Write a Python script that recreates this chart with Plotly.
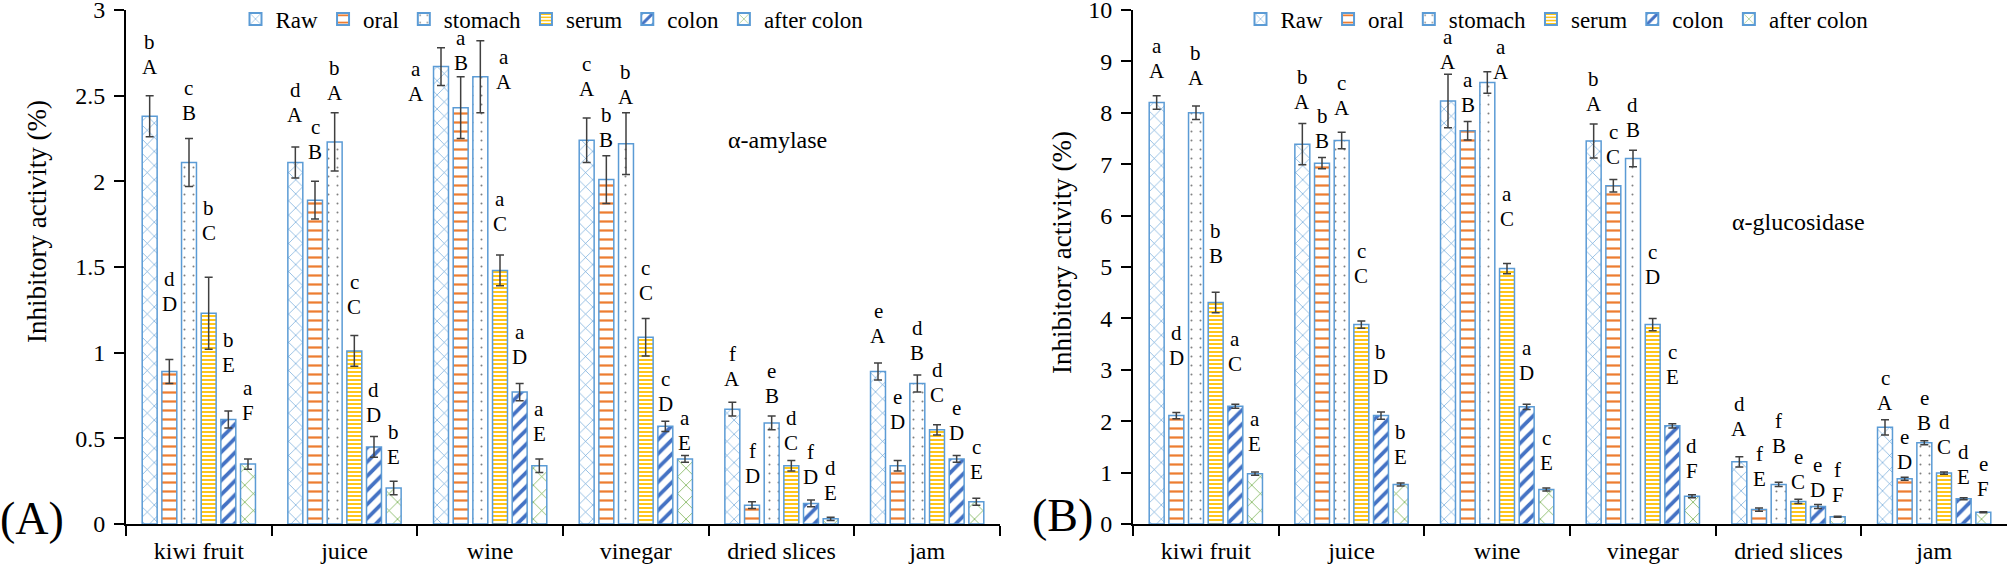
import plotly.graph_objects as go

# ---------------- data ----------------
categories = ["kiwi fruit", "juice", "wine", "vinegar", "dried slices", "jam"]
series = ["Raw", "oral", "stomach", "serum", "colon", "after colon"]

amy_raw = [2.38, 2.11, 2.67, 2.24, 0.67, 0.89]
amy_oral = [0.89, 1.89, 2.43, 2.01, 0.11, 0.34]
amy_stomach = [2.11, 2.23, 2.61, 2.22, 0.59, 0.82]
amy_serum = [1.23, 1.01, 1.48, 1.09, 0.34, 0.55]
amy_colon = [0.61, 0.45, 0.77, 0.57, 0.12, 0.38]
amy_after = [0.35, 0.21, 0.34, 0.38, 0.03, 0.13]

amy_raw_err = [0.12, 0.09, 0.11, 0.13, 0.04, 0.05]
amy_oral_err = [0.07, 0.11, 0.18, 0.14, 0.02, 0.03]
amy_stomach_err = [0.14, 0.17, 0.21, 0.18, 0.04, 0.05]
amy_serum_err = [0.21, 0.09, 0.09, 0.11, 0.03, 0.03]
amy_colon_err = [0.05, 0.06, 0.05, 0.03, 0.02, 0.02]
amy_after_err = [0.03, 0.04, 0.04, 0.02, 0.01, 0.02]

glu_raw = [8.20, 7.39, 8.23, 7.45, 1.21, 1.88]
glu_oral = [2.11, 7.02, 7.65, 6.58, 0.28, 0.88]
glu_stomach = [8.00, 7.46, 8.59, 7.11, 0.77, 1.58]
glu_serum = [4.31, 3.88, 4.97, 3.88, 0.44, 0.99]
glu_colon = [2.29, 2.11, 2.28, 1.91, 0.34, 0.49]
glu_after = [0.98, 0.77, 0.67, 0.54, 0.14, 0.23]

glu_raw_err = [0.13, 0.40, 0.52, 0.33, 0.10, 0.15]
glu_oral_err = [0.06, 0.11, 0.18, 0.12, 0.03, 0.03]
glu_stomach_err = [0.13, 0.16, 0.21, 0.16, 0.04, 0.04]
glu_serum_err = [0.20, 0.07, 0.10, 0.12, 0.04, 0.02]
glu_colon_err = [0.04, 0.07, 0.05, 0.04, 0.04, 0.02]
glu_after_err = [0.03, 0.03, 0.03, 0.03, 0.01, 0.01]

# significance letters (lowercase = between samples, uppercase = between phases)
amy_lower = [["b", "d", "a", "c", "f", "e"], ["d", "c", "a", "b", "f", "e"],
             ["c", "b", "a", "b", "e", "d"], ["b", "c", "a", "c", "d", "d"],
             ["b", "d", "a", "c", "f", "e"], ["a", "b", "a", "a", "d", "c"]]
amy_upper = [["A", "A", "A", "A", "A", "A"], ["D", "B", "B", "B", "D", "D"],
             ["B", "A", "A", "A", "B", "B"], ["C", "C", "C", "C", "C", "C"],
             ["E", "D", "D", "D", "D", "D"], ["F", "E", "E", "E", "E", "E"]]
glu_lower = [["a", "b", "a", "b", "d", "c"], ["d", "b", "a", "c", "f", "e"],
             ["b", "c", "a", "d", "f", "e"], ["b", "c", "a", "c", "e", "d"],
             ["a", "b", "a", "c", "e", "d"], ["a", "b", "c", "d", "f", "e"]]
glu_upper = [["A", "A", "A", "A", "A", "A"], ["D", "B", "B", "C", "E", "D"],
             ["A", "A", "A", "B", "B", "B"], ["B", "C", "C", "D", "C", "C"],
             ["C", "D", "D", "E", "D", "E"], ["E", "E", "E", "F", "F", "F"]]

# ---------------- layout / style ----------------
W, H = 2008, 569
FONT = "Liberation Serif, Times New Roman, Times, serif"
OUTLINE = "#5B9BD5"
patterns = [
    dict(shape="x", fgcolor="#5B9BD5", size=10, solidity=0.12),
    dict(shape="-", fgcolor="#ED7D31", size=9, solidity=0.25),
    dict(shape=".", fgcolor="#808080", size=9, solidity=0.04),
    dict(shape="-", fgcolor="#FFC000", size=4, solidity=0.45),
    dict(shape="/", fgcolor="#4472C4", size=10, solidity=0.38),
    dict(shape="x", fgcolor="#70AD47", size=12, solidity=0.12),
]
BARGAP = 0.19
BARGROUPGAP = 0.24

xdomA = [126 / W, 1000 / W]
xdomB = [1133 / W, 2007 / W]
ydom = [(H - 524) / H, (H - 10) / H]

# label placement (pixel lift of the uppercase letter above the error-bar top), per category x phase
liftA = [[29, 56, 26, 44, 46, 46], [32, 29, 20, 29, 22, 24], [-46, 14, -41, 31, 27, 25],
         [29, 16, 16, 25, 17, 12], [23, 26, 20, 18, 23, 24], [27, 39, 22, 30, 22, 26]]
liftB = [[25, 54, 28, 36, 40, 28], [22, 17, 24, 45, 35, 26], [12, 17, 0, 44, 31, 25],
         [20, 23, 20, 41, 47, 24], [28, 29, 36, 17, 14, 21], [17, 15, 18, 25, 21, 23]]
nudgeA = {(2, 0): -25, (2, 2): 24}
nudgeB = {(2, 2): 14}

fig = go.Figure()

panels = [
    dict(vals=[amy_raw, amy_oral, amy_stomach, amy_serum, amy_colon, amy_after],
         errs=[amy_raw_err, amy_oral_err, amy_stomach_err, amy_serum_err, amy_colon_err, amy_after_err],
         lower=amy_lower, upper=amy_upper, lift=liftA, nudge=nudgeA,
         xa="x", ya="y", legend="legend", dom=xdomA),
    dict(vals=[glu_raw, glu_oral, glu_stomach, glu_serum, glu_colon, glu_after],
         errs=[glu_raw_err, glu_oral_err, glu_stomach_err, glu_serum_err, glu_colon_err, glu_after_err],
         lower=glu_lower, upper=glu_upper, lift=liftB, nudge=nudgeB,
         xa="x2", ya="y2", legend="legend2", dom=xdomB),
]

annotations = []
for p in panels:
    for s, name in enumerate(series):
        fig.add_trace(go.Bar(
            x=categories, y=p["vals"][s], name=name,
            xaxis=p["xa"], yaxis=p["ya"], legend=p["legend"],
            marker=dict(color="white", line=dict(color=OUTLINE, width=1.5),
                        pattern=dict(fillmode="replace", bgcolor="white", **patterns[s])),
            error_y=dict(type="data", array=p["errs"][s], color="#404040", thickness=1.5, width=4),
        ))
    cat_px = (p["dom"][1] - p["dom"][0]) * W / len(categories)
    slot = cat_px * (1 - BARGAP) / len(series)
    for c, cat in enumerate(categories):
        for s in range(len(series)):
            top = p["vals"][s][c] + p["errs"][s][c]
            dx = (s - (len(series) - 1) / 2) * slot + p["nudge"].get((c, s), 0)
            lift = p["lift"][c][s]
            for txt, extra in ((p["upper"][s][c], 0), (p["lower"][s][c], 25)):
                annotations.append(dict(
                    x=cat, y=top, xref=p["xa"], yref=p["ya"], text=txt, showarrow=False,
                    xshift=dx, yshift=lift + extra, yanchor="middle", xanchor="center",
                    font=dict(family=FONT, size=21, color="black")))


def paper_text(x, y, text, size, angle=0):
    return dict(x=x / W, y=1 - y / H, xref="paper", yref="paper", text=text,
                textangle=angle, showarrow=False, xanchor="center", yanchor="middle",
                font=dict(family=FONT, size=size, color="black"))


annotations += [
    paper_text(37, 222, "Inhibitory activity (%)", 27, -90),
    paper_text(1062, 253, "Inhibitory activity (%)", 27, -90),
    paper_text(32, 518, "(A)", 46),
    paper_text(1062, 515, "(B)", 46),
    paper_text(777, 140, "α-amylase", 24),
    paper_text(1798, 222, "α-glucosidase", 24),
]

xaxis_style = dict(type="category", showline=True, linecolor="black", linewidth=2,
                   ticks="outside", tickson="boundaries", ticklen=10, tickwidth=2, tickcolor="black",
                   showgrid=False, zeroline=False, ticklabelstandoff=4, ticklabeloverflow="allow",
                   tickfont=dict(family=FONT, size=24, color="black"))
yaxis_style = dict(showline=True, linecolor="black", linewidth=2, ticks="outside", ticklen=10,
                   tickwidth=1.5, tickcolor="black", showgrid=False, zeroline=False,
                   ticklabelstandoff=4, ticklabeloverflow="allow",
                   tickfont=dict(family=FONT, size=24, color="black"))

legend_style = dict(orientation="h", yanchor="middle", y=1 - 19 / H, xanchor="center",
                    bgcolor="rgba(0,0,0,0)", font=dict(family=FONT, size=23, color="black"),
                    itemsizing="constant", tracegroupgap=0, itemwidth=30)

fig.update_layout(
    width=W, height=H, margin=dict(l=0, r=0, t=0, b=0, autoexpand=False),
    paper_bgcolor="white", plot_bgcolor="white",
    barmode="group", bargap=BARGAP, bargroupgap=BARGROUPGAP,
    font=dict(family=FONT, color="black"),
    xaxis=dict(domain=xdomA, anchor="y", **xaxis_style),
    yaxis=dict(domain=ydom, anchor="x", range=[0, 3], dtick=0.5, **yaxis_style),
    xaxis2=dict(domain=xdomB, anchor="y2", **xaxis_style),
    yaxis2=dict(domain=ydom, anchor="x2", range=[0, 10], dtick=1, **yaxis_style),
    legend=dict(x=552 / W, **legend_style),
    legend2=dict(x=1557 / W, **legend_style),
    annotations=annotations,
)

fig.write_html(
    "out.html",
    config={"displayModeBar": False},
    post_script="document.body.style.margin='0px';document.body.style.overflow='hidden';",
)
